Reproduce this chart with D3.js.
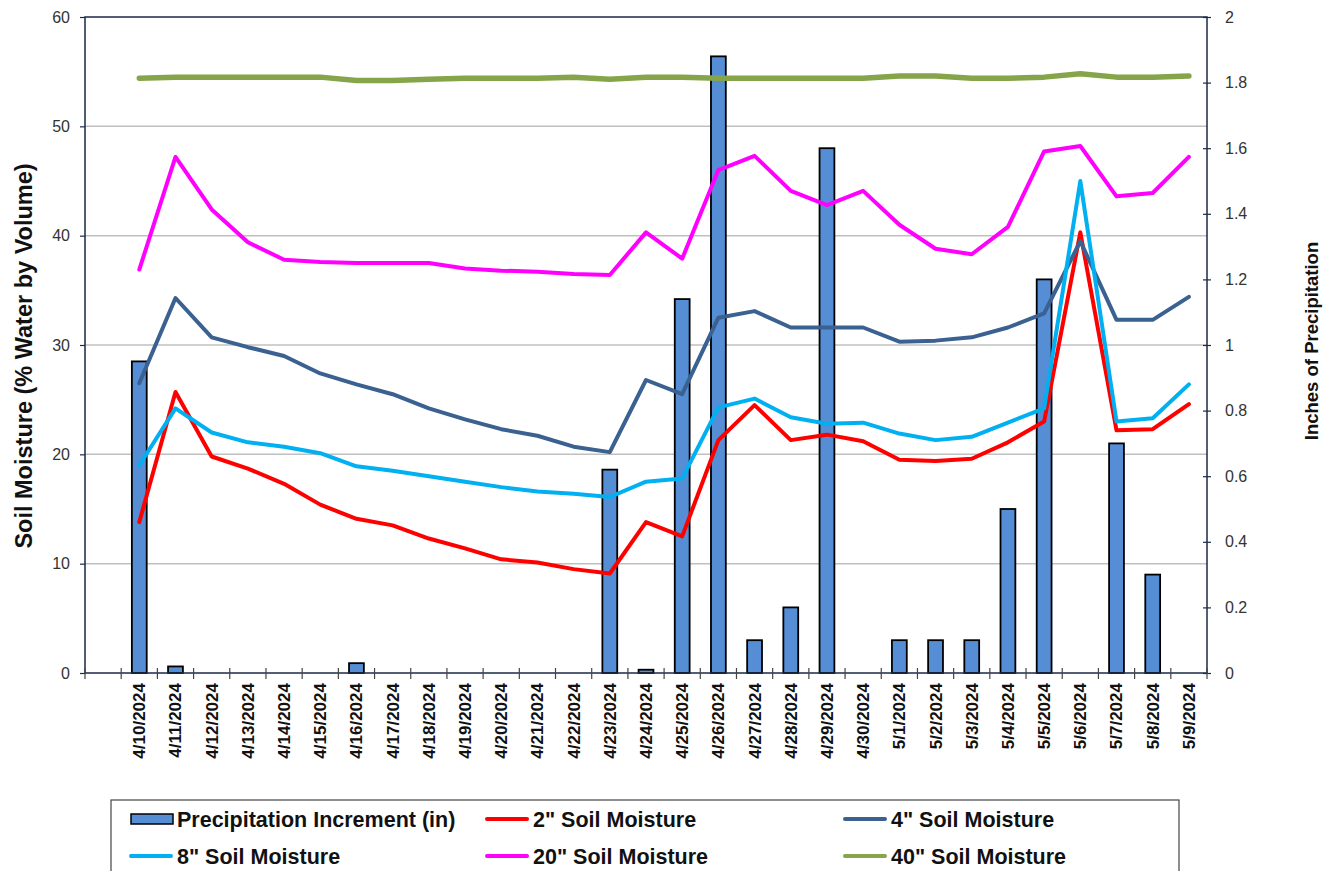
<!DOCTYPE html>
<html>
<head>
<meta charset="utf-8">
<script src="https://cdn.jsdelivr.net/npm/d3@7"></script>
<style>
  body { margin: 0; background: #fff; }
  svg { font-family: "Liberation Sans", Arial, sans-serif; }
</style>
</head>
<body>
<div id="chart"></div>
<script>
// ---- data ----
// first slot of the category axis is left empty in the original sheet
const dates = ["", "4/10/2024", "4/11/2024", "4/12/2024", "4/13/2024", "4/14/2024", "4/15/2024",
  "4/16/2024", "4/17/2024", "4/18/2024", "4/19/2024", "4/20/2024", "4/21/2024", "4/22/2024",
  "4/23/2024", "4/24/2024", "4/25/2024", "4/26/2024", "4/27/2024", "4/28/2024", "4/29/2024",
  "4/30/2024", "5/1/2024", "5/2/2024", "5/3/2024", "5/4/2024", "5/5/2024", "5/6/2024",
  "5/7/2024", "5/8/2024", "5/9/2024"];

const precip = [null, 0.95, 0.02, 0, 0, 0, 0, 0.03, 0, 0, 0, 0, 0, 0, 0.62, 0.01, 1.14, 1.88,
  0.10, 0.20, 1.60, 0, 0.10, 0.10, 0.10, 0.50, 1.20, 0, 0.70, 0.30, 0];

const sm2 = [null, 13.8, 25.7, 19.8, 18.7, 17.3, 15.4, 14.1, 13.5, 12.3, 11.4, 10.4, 10.1, 9.5,
  9.1, 13.8, 12.5, 21.3, 24.5, 21.3, 21.8, 21.2, 19.5, 19.4, 19.6, 21.1, 23.0, 40.3, 22.2, 22.3, 24.6];
const sm4 = [null, 26.5, 34.3, 30.7, 29.8, 29.0, 27.4, 26.4, 25.5, 24.2, 23.2, 22.3, 21.7, 20.7,
  20.2, 26.8, 25.5, 32.5, 33.1, 31.6, 31.6, 31.6, 30.3, 30.4, 30.7, 31.6, 32.9, 39.5, 32.3, 32.3, 34.4];
const sm8 = [null, 19.0, 24.2, 22.0, 21.1, 20.7, 20.1, 18.9, 18.5, 18.0, 17.5, 17.0, 16.6, 16.4,
  16.1, 17.5, 17.8, 24.3, 25.1, 23.4, 22.8, 22.9, 21.9, 21.3, 21.6, 22.9, 24.2, 45.0, 23.0, 23.3, 26.4];
const sm20 = [null, 36.9, 47.2, 42.4, 39.4, 37.8, 37.6, 37.5, 37.5, 37.5, 37.0, 36.8, 36.7, 36.5,
  36.4, 40.3, 37.9, 46.0, 47.3, 44.1, 42.8, 44.1, 41.0, 38.8, 38.3, 40.8, 47.7, 48.2, 43.6, 43.9, 47.2];
const sm40 = [null, 54.4, 54.5, 54.5, 54.5, 54.5, 54.5, 54.2, 54.2, 54.3, 54.4, 54.4, 54.4, 54.5,
  54.3, 54.5, 54.5, 54.4, 54.4, 54.4, 54.4, 54.4, 54.6, 54.6, 54.4, 54.4, 54.5, 54.8, 54.5, 54.5, 54.6];

const leftTicks = [0, 10, 20, 30, 40, 50, 60];
const rightTicks = [0, 0.2, 0.4, 0.6, 0.8, 1, 1.2, 1.4, 1.6, 1.8, 2];

const series = [
  {name: '2" Soil Moisture', values: sm2, color: "#FF0000", width: 4},
  {name: '4" Soil Moisture', values: sm4, color: "#3A6190", width: 4},
  {name: '8" Soil Moisture', values: sm8, color: "#00B0F0", width: 4},
  {name: '20" Soil Moisture', values: sm20, color: "#FF00FF", width: 4},
  {name: '40" Soil Moisture', values: sm40, color: "#86A44A", width: 5.5}
];

// ---- layout ----
const W = 1325, H = 871;
const margin = {top: 17, right: 118, bottom: 198, left: 85};
const width = W - margin.left - margin.right;
const height = H - margin.top - margin.bottom;
const frame = "#1B2A47";

const svg = d3.select("#chart").append("svg")
  .attr("width", W)
  .attr("height", H);

const g = svg.append("g")
  .attr("transform", `translate(${margin.left},${margin.top})`);

// scales
const x = d3.scaleBand().domain(dates.map((d, i) => i)).range([0, width]).padding(0);
const y = d3.scaleLinear().domain([0, 60]).range([height, 0]);
const y2 = d3.scaleLinear().domain([0, 2]).range([height, 0]);

// gridlines
g.append("g")
  .selectAll("line")
  .data(leftTicks.filter(t => t > 0 && t < 60))
  .join("line")
  .attr("x1", 0).attr("x2", width)
  .attr("y1", d => y(d)).attr("y2", d => y(d))
  .attr("stroke", "#C0C0C0")
  .attr("stroke-width", 1.5);

// bars
const barW = x.bandwidth() * 0.41;
g.append("g")
  .selectAll("rect")
  .data(precip.map((v, i) => ({i, v})).filter(d => d.v))
  .join("rect")
  .attr("x", d => x(d.i) + (x.bandwidth() - barW) / 2)
  .attr("y", d => y2(d.v))
  .attr("width", barW)
  .attr("height", d => y2(0) - y2(d.v))
  .attr("fill", "#558ED5")
  .attr("stroke", "#000")
  .attr("stroke-width", 1.8);

// lines
const line = d3.line()
  .defined(d => d.v != null)
  .x(d => x(d.i) + x.bandwidth() / 2)
  .y(d => y(d.v));

g.append("g")
  .selectAll("path")
  .data(series)
  .join("path")
  .attr("fill", "none")
  .attr("stroke", d => d.color)
  .attr("stroke-width", d => d.width)
  .attr("stroke-linejoin", "round")
  .attr("stroke-linecap", "round")
  .attr("d", d => line(d.values.map((v, i) => ({i, v}))));

// frame
g.append("rect")
  .attr("x", 0).attr("y", 0)
  .attr("width", width).attr("height", height)
  .attr("fill", "none")
  .attr("stroke", frame)
  .attr("stroke-width", 1.5);

// left axis
const yAxis = g.append("g")
  .call(d3.axisLeft(y).tickValues(leftTicks).tickSize(5).tickPadding(10));
yAxis.select(".domain").remove();
yAxis.selectAll(".tick line").attr("stroke", frame).attr("stroke-width", 1.2);
yAxis.selectAll(".tick text").attr("font-size", 16).attr("fill", "#333");

// right axis: ticks cross the frame line
const yAxis2 = g.append("g")
  .attr("transform", `translate(${width},0)`)
  .call(d3.axisRight(y2).tickValues(rightTicks).tickSize(4).tickPadding(14)
    .tickFormat(d3.format("~g")));
yAxis2.select(".domain").remove();
yAxis2.selectAll(".tick line").attr("x1", -4).attr("stroke", frame).attr("stroke-width", 1.2);
yAxis2.selectAll(".tick text").attr("font-size", 16).attr("fill", "#333");

// bottom axis: ticks at category boundaries, labels at centres
const xAxis = g.append("g")
  .attr("transform", `translate(0,${height})`)
  .call(d3.axisBottom(x).tickSize(0).tickPadding(10).tickFormat(i => dates[i]));
xAxis.select(".domain").remove();
xAxis.selectAll(".tick text")
  .attr("transform", "rotate(-90)")
  .attr("text-anchor", "end")
  .attr("dx", "-10")
  .attr("dy", "0.35em")
  .attr("x", 0).attr("y", 0)
  .attr("font-size", 17)
  .attr("font-weight", "bold")
  .attr("fill", "#111");

const bounds = dates.map((d, i) => x(i)).concat([width]);
xAxis.append("g")
  .selectAll("line")
  .data(bounds)
  .join("line")
  .attr("x1", d => d).attr("x2", d => d)
  .attr("y1", -5).attr("y2", 6)
  .attr("stroke", "#444")
  .attr("stroke-width", 1.2);

// axis titles
svg.append("text")
  .attr("transform", "translate(32,356) rotate(-90)")
  .attr("text-anchor", "middle")
  .attr("font-size", 23.5)
  .attr("font-weight", "bold")
  .attr("fill", "#111")
  .text("Soil Moisture (% Water by Volume)");

svg.append("text")
  .attr("transform", "translate(1318,341) rotate(-90)")
  .attr("text-anchor", "middle")
  .attr("font-size", 18.5)
  .attr("font-weight", "bold")
  .attr("fill", "#111")
  .text("Inches of Precipitation");

// legend
const legend = svg.append("g");
legend.append("rect")
  .attr("x", 111).attr("y", 800)
  .attr("width", 1068).attr("height", 90)
  .attr("fill", "#fff")
  .attr("stroke", "#444")
  .attr("stroke-width", 1.2);

const legendItems = [
  {name: "Precipitation Increment (in)", type: "bar", col: 0, row: 0},
  {name: series[0].name, color: series[0].color, col: 1, row: 0},
  {name: series[1].name, color: series[1].color, col: 2, row: 0},
  {name: series[2].name, color: series[2].color, col: 0, row: 1},
  {name: series[3].name, color: series[3].color, col: 1, row: 1},
  {name: series[4].name, color: series[4].color, col: 2, row: 1}
];
const colX = [131, 487, 845];
const rowY = [819, 856];

const li = legend.selectAll("g.item")
  .data(legendItems)
  .join("g")
  .attr("class", "item")
  .attr("transform", d => `translate(${colX[d.col]},${rowY[d.row]})`);

li.filter(d => d.type === "bar").append("rect")
  .attr("x", 0).attr("y", -5)
  .attr("width", 42).attr("height", 10)
  .attr("fill", "#558ED5")
  .attr("stroke", "#000")
  .attr("stroke-width", 1.5);

li.filter(d => d.type !== "bar").append("line")
  .attr("x1", 0).attr("x2", 40)
  .attr("y1", 0).attr("y2", 0)
  .attr("stroke", d => d.color)
  .attr("stroke-width", 4)
  .attr("stroke-linecap", "round");

li.append("text")
  .attr("x", 46)
  .attr("y", 0)
  .attr("dy", "0.35em")
  .attr("font-size", 21.5)
  .attr("font-weight", "bold")
  .attr("fill", "#111")
  .text(d => d.name);
</script>
</body>
</html>
